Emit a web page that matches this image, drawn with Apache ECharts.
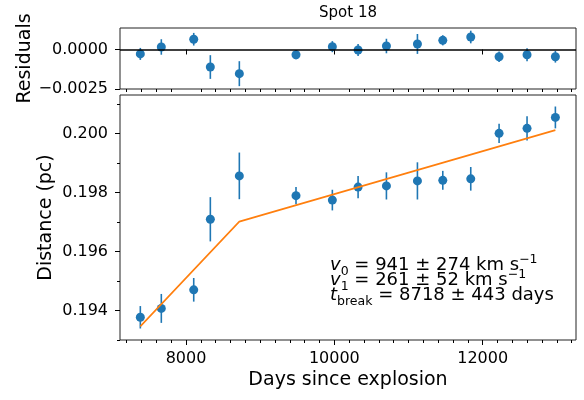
<!DOCTYPE html>
<html>
<head>
<meta charset="utf-8">
<script src="https://cdn.jsdelivr.net/npm/echarts@6.0.0/dist/echarts.min.js"></script>
<style>
html, body { margin: 0; padding: 0; background: #fff; }
#main { width: 584px; height: 400px; }
</style>
</head>
<body>
<div id="main"></div>
<script>
// data
var days = [7384, 7667, 8104, 8328, 8719, 9483, 9973, 10320, 10702, 11120, 11462, 11839, 12221, 12598, 12980];
var distance = [0.19377, 0.19407, 0.19470, 0.19709, 0.19856, 0.19789, 0.19774, 0.19818, 0.19822, 0.19839, 0.19841, 0.19846, 0.20000, 0.20017, 0.20054];
var distErr = [0.00038, 0.00049, 0.00040, 0.00075, 0.00079, 0.00029, 0.00035, 0.00038, 0.00046, 0.00063, 0.00032, 0.00040, 0.00033, 0.00041, 0.00037];
var residuals = [-0.00028, 0.00016, 0.00065, -0.00111, -0.00153, -0.00033, 0.00018, -0.00003, 0.00022, 0.00035, 0.00058, 0.00079, -0.00046, -0.00033, -0.00046];
var fitDays = [7384, 8718, 12980];
var fitDist = [0.19346, 0.19701, 0.20011];

// ticks
var xMajor = [8000, 10000, 12000];
var xMinor = [7200, 7400, 7600, 7800, 8200, 8400, 8600, 8800, 9000, 9200, 9400, 9600, 9800,
  10200, 10400, 10600, 10800, 11000, 11200, 11400, 11600, 11800, 12200, 12400, 12600, 12800, 13000, 13200];
var distTicks = [0.194, 0.196, 0.198, 0.200];
var distMinor = [0.193, 0.195, 0.197, 0.199, 0.201];
var resTicks = [-0.0025, 0];

var blue = '#1f77b4';
var orange = '#ff7f0e';
var font = 'DejaVu Sans';

var dom = document.getElementById('main');
var myChart = echarts.init(dom, null, { renderer: 'canvas' });

function errorBars(params, api) {
    var x = api.value(0), y = api.value(1), e = api.value(2);
    var p1 = api.coord([x, y - e]);
    var p2 = api.coord([x, y + e]);
    return {
        type: 'line',
        shape: { x1: p1[0], y1: p1[1], x2: p2[0], y2: p2[1] },
        style: { stroke: blue, lineWidth: 1.6 }
    };
}

function minus(s) { return s.replace('-', '\u2212'); }

var xMin = 7110, xMax = 13258;

function xMajorAxis(grid, showLabel) {
    return {
        type: 'value', gridIndex: grid, min: xMin, max: xMax,
        name: showLabel ? 'Days since explosion' : '',
        nameLocation: 'middle', nameGap: 31, nameMoveOverlap: false,
        nameTextStyle: { fontFamily: font, fontSize: 19, color: '#000' },
        axisLine: { show: false },
        splitLine: { show: false },
        axisTick: { show: true, length: 5, customValues: xMajor, lineStyle: { color: '#000', width: 1 } },
        axisLabel: {
            show: showLabel, customValues: xMajor, margin: 11,
            fontFamily: font, fontSize: 16, color: '#000',
            formatter: function (v) { return String(v); }
        }
    };
}
function minorAxis(type, grid, min, max, ticks) {
    return {
        type: 'value', gridIndex: grid, min: min, max: max,
        position: type === 'x' ? 'bottom' : 'left',
        axisLine: { show: false },
        splitLine: { show: false },
        axisLabel: { show: false },
        axisTick: { show: true, length: 3, customValues: ticks, lineStyle: { color: '#000', width: 1 } }
    };
}

var resData = days.map(function (d, i) { return [d, residuals[i], distErr[i]]; });
var distData = days.map(function (d, i) { return [d, distance[i], distErr[i]]; });
var fitData = fitDays.map(function (d, i) { return [d, fitDist[i]]; });

myChart.setOption({
    animation: false,
    backgroundColor: '#fff',
    title: {
        text: 'Spot 18', left: 348, top: 6, textAlign: 'center', padding: 0,
        textStyle: { fontFamily: font, fontSize: 15, fontWeight: 'normal', color: '#000' }
    },
    grid: [
        { left: 120, right: 8, top: 28, height: 61, show: true, borderColor: '#222', borderWidth: 1, backgroundColor: 'transparent' },
        { left: 120, right: 8, top: 95, bottom: 60, show: true, borderColor: '#222', borderWidth: 1, backgroundColor: 'transparent' }
    ],
    xAxis: [
        xMajorAxis(0, false),
        minorAxis('x', 0, xMin, xMax, xMinor),
        xMajorAxis(1, true),
        minorAxis('x', 1, xMin, xMax, xMinor)
    ],
    yAxis: [
        {
            type: 'value', gridIndex: 0, min: -0.0025, max: 0.00136,
            name: 'Residuals', nameLocation: 'middle', nameGap: 85, nameMoveOverlap: false,
            nameTextStyle: { fontFamily: font, fontSize: 19, color: '#000' },
            axisLine: { show: false }, splitLine: { show: false },
            axisTick: { show: true, length: 5, customValues: resTicks, lineStyle: { color: '#000', width: 1 } },
            axisLabel: {
                customValues: resTicks, margin: 12,
                fontFamily: font, fontSize: 16, color: '#000',
                formatter: function (v) { return minus(v.toFixed(4)); }
            }
        },
        {
            type: 'value', gridIndex: 1, min: 0.193, max: 0.2013,
            name: 'Distance (pc)', nameLocation: 'middle', nameGap: 64, nameMoveOverlap: false,
            nameTextStyle: { fontFamily: font, fontSize: 19, color: '#000' },
            axisLine: { show: false }, splitLine: { show: false },
            axisTick: { show: true, length: 5, customValues: distTicks, lineStyle: { color: '#000', width: 1 } },
            axisLabel: {
                customValues: distTicks, margin: 12,
                fontFamily: font, fontSize: 16, color: '#000',
                formatter: function (v) { return v.toFixed(3); }
            }
        },
        minorAxis('y', 1, 0.193, 0.2013, distMinor)
    ],
    graphic: [{
        type: 'text', left: 330, top: 253, z: 100,
        style: {
            text: '{i|v}{sub|0}{n| = 941 \u00b1 274 km s}{sup|\u22121}\n' +
                  '{i|v}{sub|1}{n| = 261 \u00b1 52 km s}{sup|\u22121}\n' +
                  '{i|t}{sub|break}{n| = 8718 \u00b1 443 days}',
            fontFamily: font, fontSize: 18, lineHeight: 15, fill: '#000',
            rich: {
                n: { fontFamily: font, fontSize: 18, lineHeight: 15 },
                i: { fontFamily: font, fontSize: 18, fontStyle: 'italic', lineHeight: 15 },
                sub: { fontFamily: font, fontSize: 12.5, lineHeight: 15, verticalAlign: 'top', padding: [7, 0, 0, 0] },
                sup: { fontFamily: font, fontSize: 12.5, lineHeight: 15, verticalAlign: 'bottom', padding: [0, 0, 7, 0] }
            }
        }
    }],
    series: [
        {
            type: 'custom', xAxisIndex: 0, yAxisIndex: 0, renderItem: errorBars,
            data: resData, z: 2, silent: true
        },
        {
            type: 'scatter', xAxisIndex: 0, yAxisIndex: 0, symbolSize: 9,
            itemStyle: { color: blue, opacity: 1 }, z: 3,
            data: resData.map(function (r) { return [r[0], r[1]]; }),
            markLine: {
                silent: true, symbol: 'none', label: { show: false },
                lineStyle: { color: '#000', width: 1.6, type: 'solid' },
                data: [{ yAxis: 0 }]
            }
        },
        {
            type: 'custom', xAxisIndex: 2, yAxisIndex: 1, renderItem: errorBars,
            data: distData, z: 2, silent: true
        },
        {
            type: 'scatter', xAxisIndex: 2, yAxisIndex: 1, symbolSize: 9,
            itemStyle: { color: blue, opacity: 1 }, z: 3,
            data: distData.map(function (r) { return [r[0], r[1]]; })
        },
        {
            type: 'line', xAxisIndex: 2, yAxisIndex: 1, data: fitData,
            showSymbol: false, symbol: 'none', z: 4,
            lineStyle: { color: orange, width: 1.6 }
        }
    ]
});
</script>
</body>
</html>
